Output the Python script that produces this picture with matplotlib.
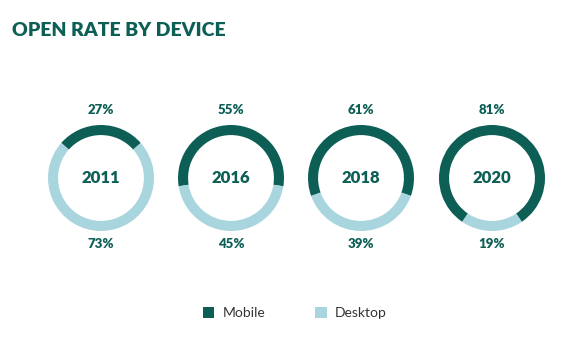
import matplotlib.pyplot as plt
from matplotlib.patches import Patch

# Data
years = ['2011', '2016', '2018', '2020']
mobile = [27, 55, 61, 81]
desktop = [73, 45, 39, 19]

dark = '#0d5f56'
light = '#a9d5de'

plt.rcParams['font.family'] = ['Lato', 'DejaVu Sans']

W, H = 564, 340
fig = plt.figure(figsize=(W / 100, H / 100), dpi=100)
fig.patch.set_facecolor('white')

fig.text(12 / W, 1 - 30 / H, 'OPEN RATE BY DEVICE', fontsize=14, fontweight='heavy',
         color=dark, va='center', ha='left')

centers = [101, 231, 361, 492]
cy = 178
r = 53
for cx, yr, m, d in zip(centers, years, mobile, desktop):
    ax = fig.add_axes([(cx - r) / W, 1 - (cy + r) / H, 2 * r / W, 2 * r / H])
    ax.pie([m, d], colors=[dark, light], startangle=90 - 360 * m / 100 / 2,
           counterclock=True, radius=1, wedgeprops=dict(width=0.19, linewidth=0))
    ax.set_xlim(-1, 1)
    ax.set_ylim(-1, 1)
    ax.set_aspect('equal')
    ax.axis('off')
    ax.text(0, 0, yr, ha='center', va='center', fontsize=12, fontweight='heavy', color=dark)
    ax.text(0, 1.29, f'{m}%', ha='center', va='center', fontsize=9.5, fontweight='heavy',
            color=dark, clip_on=False)
    ax.text(0, -1.25, f'{d}%', ha='center', va='center', fontsize=9.5, fontweight='heavy',
            color=dark, clip_on=False)

handles = [Patch(facecolor=dark, label='Mobile'), Patch(facecolor=light, label='Desktop')]
fig.legend(handles=handles, loc='center', bbox_to_anchor=(295 / W, 27 / H), ncol=2,
           frameon=False, fontsize=10, handlelength=0.8, handleheight=0.8,
           columnspacing=3.6, handletextpad=0.6, labelcolor='#333333')

fig.savefig('out.png', dpi=100, facecolor='white')
